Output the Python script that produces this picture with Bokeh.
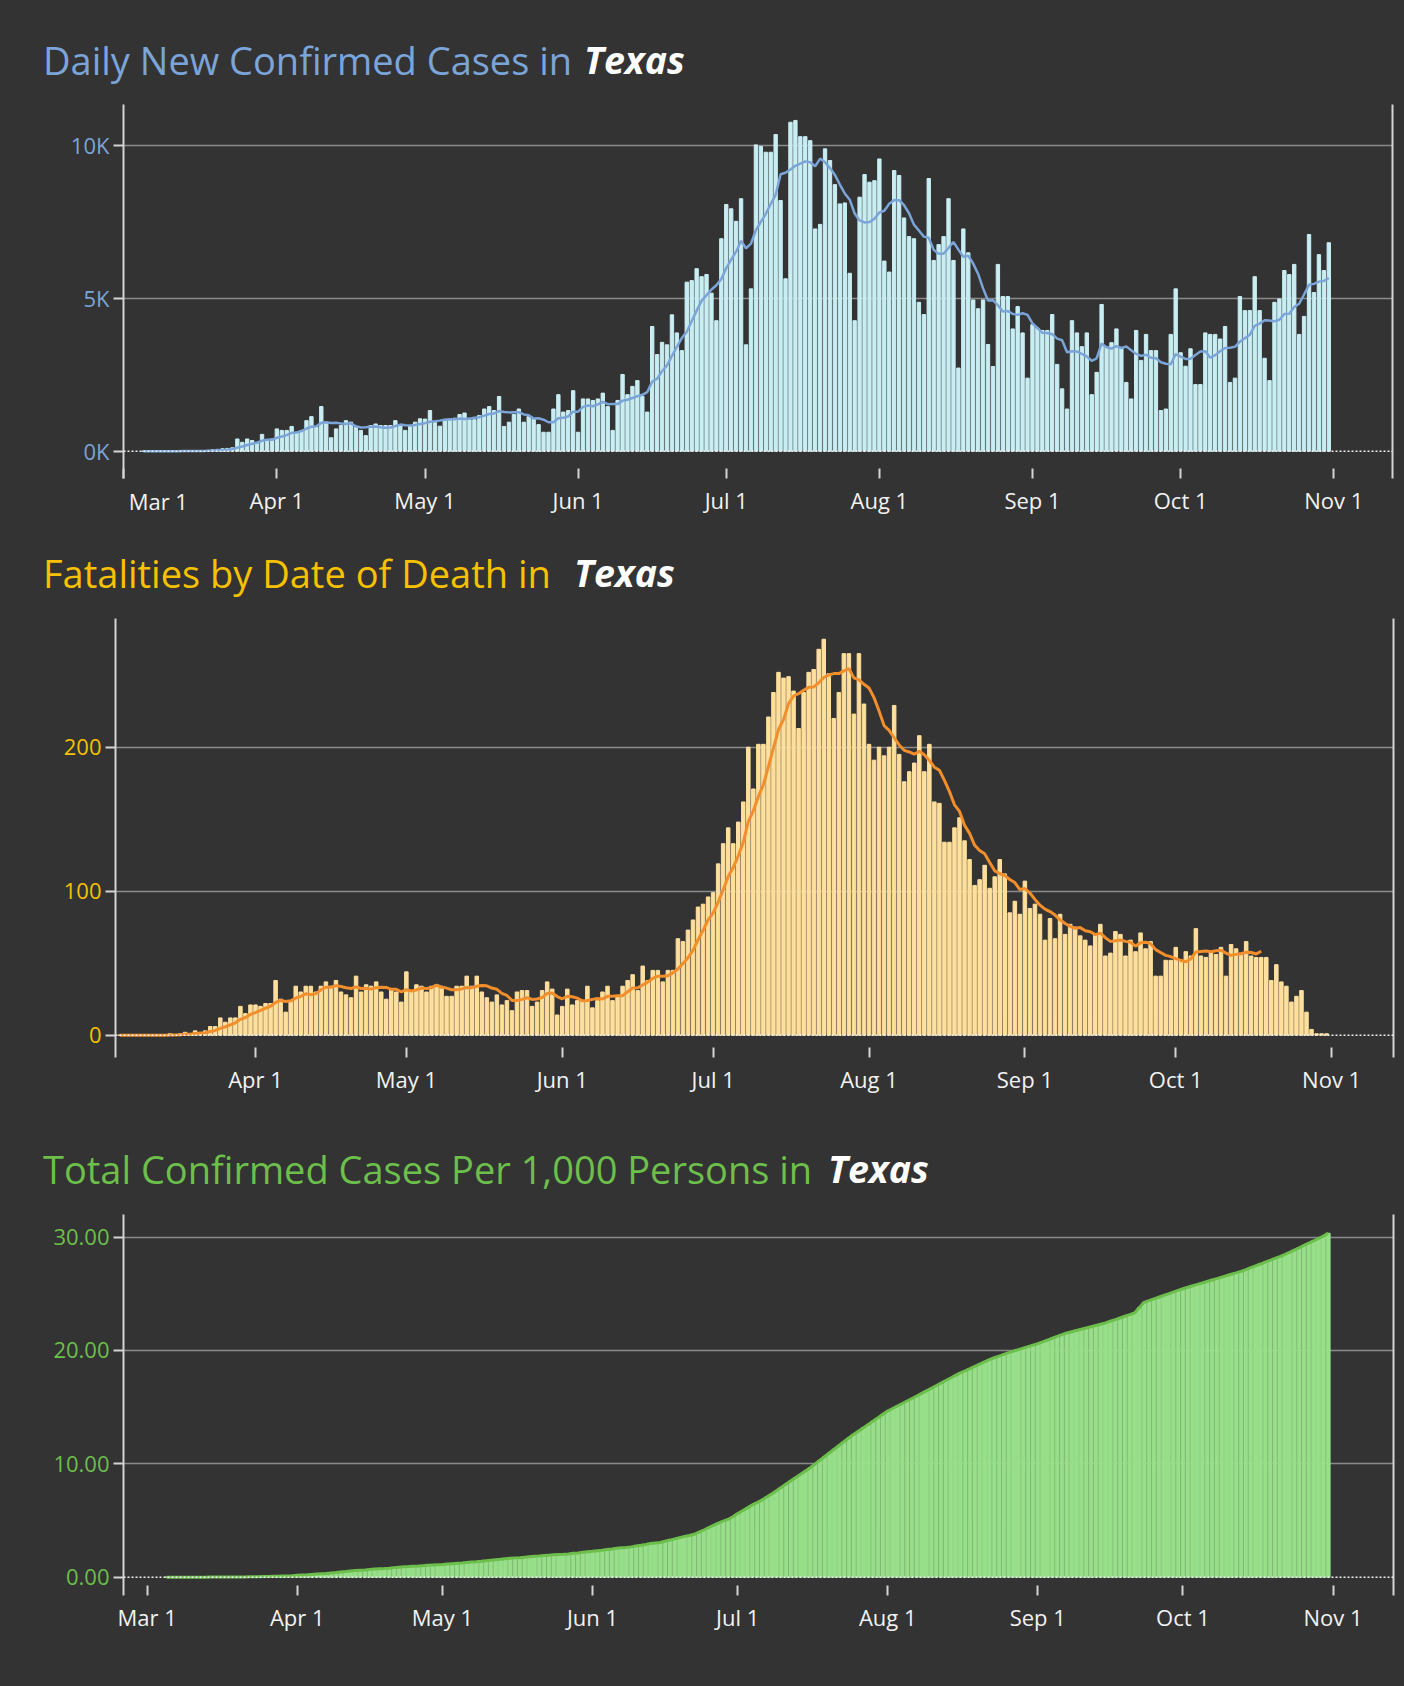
import numpy as np
import pandas as pd
from bokeh.plotting import figure
from bokeh.layouts import column, row
from bokeh.models import FixedTicker, Span, LinearAxis, ColumnDataSource, Range1d, Div
from bokeh.embed import file_html
from bokeh.resources import INLINE

# ---------------- data (day 0 = Mar 1, 2020) ----------------
month_tick_days = [0, 31, 61, 92, 122, 153, 184, 214, 245]
month_tick_labels = ["Mar 1", "Apr 1", "May 1", "Jun 1", "Jul 1", "Aug 1", "Sep 1", "Oct 1", "Nov 1"]
first_day = 4  # Mar 5

title_main = ["Daily New Confirmed Cases in", "Fatalities by Date of Death in",
              "Total Confirmed Cases Per 1,000 Persons in"]
title_state = "Texas"

daily_cases = [
    1, 0, 2, 1, 3, 2, 5, 4, 8, 10, 12, 15,
    20, 30, 45, 60, 80, 90, 110,
    400, 290, 400, 350, 290, 550, 350, 400, 730,
    680, 680, 810, 620, 680, 1000, 1130, 790, 1460,
    950, 440, 730, 840, 1000, 950, 790, 680, 510, 840,
    890, 840, 840, 840, 1000, 840, 680, 840, 950, 1060,
    1050, 1330, 950, 820, 1040, 1040, 1080, 1200, 1250, 1030,
    1030, 1170, 1380, 1460, 1330, 1790, 810, 950, 1200, 1380,
    950, 1130, 1060, 870, 620, 620, 1380, 1850, 1280, 1330,
    1980, 620, 1710, 1710, 1660, 1710, 1900, 1460, 680, 1660,
    2510, 1850, 2120, 2310, 1790, 1280, 4080, 3160, 3560, 3480,
    4460, 3870, 3290, 5530, 5580, 5970, 5710, 5780, 5170, 4270,
    6950, 8070, 7930, 7520, 8260, 3480, 5310, 10020, 9970, 9780,
    9780, 10360, 8200, 5640, 10760, 10820, 10290, 10290, 10160, 7270,
    7420, 9890, 9510, 8720, 8090, 8120, 5820, 4270, 8310, 9050,
    8800, 8850, 9560, 6220, 5860, 9180, 9020, 7630, 7020, 6950,
    4870, 4470, 8920, 6240, 6760, 7020, 8260, 6240, 2720, 7270,
    6490, 4950, 4660, 4950, 3490, 2770, 6110, 5060, 5060, 4000,
    4730, 3870, 2390, 4140, 4030, 3950, 3950, 4470, 2840, 2040,
    1380, 4270, 3870, 3420, 3870, 1850, 2580, 4800, 3420, 3550,
    4000, 3400, 2250, 1710, 3950, 2970, 3820, 3290, 3290, 1330,
    1380, 3820, 5310, 3220, 2780, 3350, 2180, 2180, 3870, 3820,
    3820, 3670, 4080, 2250, 2390, 5060, 4600, 4600, 5710, 4600,
    3040, 2310, 4870, 4980, 5910, 5780, 6110, 3820, 4410, 7090,
    5190, 6430, 5910, 6820,
]

daily_deaths = [
    0, 0, 0, 0, 0, 0, 0, 0, 0, 0,
    1, 0, 1, 2, 1, 3, 2, 3,
    6, 6, 12, 9, 12, 12, 20, 15, 21, 21,
    20, 22, 22, 38, 25, 16, 24, 34, 30, 34,
    34, 30, 34, 37, 34, 38, 30, 28, 26, 41,
    30, 35, 34, 37, 30, 25, 32, 30, 23, 44,
    31, 35, 34, 30, 34, 35, 34, 27, 27, 34,
    34, 41, 34, 41, 30, 26, 23, 28, 21, 24,
    17, 30, 31, 31, 20, 23, 31, 37, 32, 14,
    20, 32, 21, 24, 24, 34, 19, 24, 30, 34,
    24, 27, 34, 38, 42, 31, 48, 38, 45, 45,
    37, 45, 45, 67, 65, 73, 80, 89, 91, 96,
    99, 119, 133, 144, 133, 148, 162, 200, 171, 202,
    202, 221, 238, 252, 248, 249, 239, 213, 238, 252,
    254, 268, 275, 251, 220, 238, 265, 265, 223, 265,
    230, 202, 191, 200, 194, 200, 229, 195, 176, 183,
    189, 208, 183, 202, 162, 161, 134, 134, 144, 151,
    135, 122, 104, 108, 118, 102, 110, 122, 112, 85,
    93, 84, 107, 88, 91, 84, 66, 81, 67, 84,
    70, 77, 75, 69, 66, 62, 70, 77, 55, 57,
    72, 70, 55, 66, 58, 71, 60, 65, 41, 41,
    52, 52, 61, 52, 58, 55, 74, 55, 54, 58,
    56, 61, 41, 63, 60, 57, 65, 55, 54, 54,
    54, 38, 49, 37, 34, 23, 27, 31, 16, 4,
    1, 1, 1,
]
deaths_avg_last_day = 231

total_per_1000 = [
    0.00, 0.00, 0.00, 0.00, 0.00, 0.00, 0.00, 0.00, 0.00, 0.01, 0.01,
    0.01, 0.01, 0.01, 0.02, 0.02,
    0.02, 0.03, 0.03, 0.04, 0.05,
    0.06, 0.07, 0.08, 0.10, 0.11, 0.13, 0.16,
    0.19, 0.21, 0.24, 0.27, 0.30, 0.33, 0.37, 0.41, 0.46, 0.50, 0.55,
    0.58, 0.61, 0.64, 0.68, 0.71, 0.74, 0.76, 0.79, 0.84, 0.88,
    0.91, 0.93, 0.96, 0.98, 1.01, 1.04, 1.07, 1.09, 1.11,
    1.15, 1.19, 1.22, 1.25, 1.29, 1.33, 1.36, 1.40, 1.45,
    1.49, 1.53, 1.57, 1.62, 1.66, 1.70, 1.72, 1.76, 1.80,
    1.84, 1.87, 1.91, 1.94, 1.97, 1.99, 2.01, 2.05, 2.10, 2.14, 2.19, 2.24, 2.28,
    2.33, 2.38, 2.44, 2.49, 2.55, 2.59,
    2.61, 2.67, 2.75, 2.81, 2.88, 2.96, 3.02, 3.06, 3.17,
    3.27, 3.38, 3.49, 3.59, 3.67,
    3.78, 3.97, 4.16, 4.36,
    4.56, 4.76, 4.94, 5.09, 5.33, 5.61,
    5.86, 6.11, 6.37, 6.58, 6.80, 7.07, 7.33,
    7.62, 7.92, 8.21, 8.50, 8.79, 9.07, 9.36, 9.65,
    9.98, 10.32, 10.65, 10.98, 11.31, 11.64, 11.97, 12.30,
    12.60, 12.89, 13.19, 13.48, 13.78, 14.07, 14.37, 14.66,
    14.88, 15.10, 15.32, 15.54, 15.76, 15.98,
    16.21, 16.44, 16.66, 16.89, 17.12, 17.35, 17.57, 17.80, 18.03,
    18.20, 18.40, 18.60, 18.80, 19.00, 19.20,
    19.36, 19.51, 19.66, 19.81, 19.95, 20.08, 20.21, 20.34, 20.47, 20.60,
    20.76, 20.92, 21.08, 21.24, 21.40, 21.55,
    21.66, 21.77, 21.88, 21.99, 22.10, 22.21, 22.32, 22.43,
    22.58, 22.72, 22.87, 23.02, 23.16, 23.31,
    23.80, 24.25, 24.40,
    24.55, 24.70, 24.85, 25.00, 25.15, 25.30, 25.45,
    25.58, 25.71, 25.83, 25.96, 26.09, 26.22, 26.34, 26.47, 26.60, 26.73, 26.85, 26.98,
    27.14, 27.31, 27.47, 27.63, 27.80, 27.96, 28.12, 28.29, 28.45,
    28.65, 28.86, 29.06, 29.27, 29.47, 29.68, 29.88, 30.09, 30.35,
]

cases_ticks = [0, 5000, 10000]
cases_tick_labels = ["0K", "5K", "10K"]
deaths_ticks = [0, 100, 200]
deaths_tick_labels = ["0", "100", "200"]
total_ticks = [0, 10, 20, 30]
total_tick_labels = ["0.00", "10.00", "20.00", "30.00"]

# ---------------- style ----------------
BG = "#333333"
FONT = "Open Sans"
AXIS_COL = "#d4d4d4"
GRID_COL = "#8a8a8a"
XLAB_COL = "#f2f2f2"
TICK_FS = "22px"
W = 1404

days = first_day + np.arange(len(daily_cases))


def header(height, text, color, x_main, x_state, top):
    html = (
        f'<div style="position:relative;width:{W}px;height:{height}px;'
        f"font-family:'{FONT}';line-height:40px;white-space:nowrap;\">"
        f'<span style="position:absolute;left:{x_main}px;top:{top}px;font-size:38px;'
        f'color:{color};">{text}</span>'
        f'<span style="position:absolute;left:{x_state}px;top:{top}px;font-size:37.5px;'
        f'color:#ffffff;font-weight:bold;font-style:italic;">{title_state}</span></div>'
    )
    return Div(text=html, width=W, height=height, margin=(0, 0, 0, 0))


def make_fig(height, borders, xr, yr, yticks, ylabels, ycolor, first_label_at=None):
    left, right, top, bottom = borders
    p = figure(width=W, height=height, output_backend="svg", toolbar_location=None,
               x_range=Range1d(*xr), y_range=Range1d(*yr),
               min_border_left=left, min_border_right=right,
               min_border_top=top, min_border_bottom=bottom)
    p.background_fill_color = BG
    p.border_fill_color = None
    p.outline_line_color = None
    p.xgrid.grid_line_color = None
    p.ygrid.ticker = FixedTicker(ticks=[t for t in yticks if t != 0])
    p.ygrid.grid_line_color = GRID_COL
    p.ygrid.grid_line_width = 1.5

    labels = dict(zip(month_tick_days, month_tick_labels))
    if first_label_at is not None:
        labels[month_tick_days[0]] = ""

    xa = p.xaxis[0]
    xa.ticker = FixedTicker(ticks=month_tick_days)
    xa.major_label_overrides = labels
    xa.axis_line_color = None
    xa.major_tick_line_color = AXIS_COL
    xa.major_tick_line_width = 2
    xa.major_tick_in = 10
    xa.major_tick_out = 0
    xa.minor_tick_line_color = None
    xa.major_label_standoff = 6
    xa.major_label_text_font = FONT
    xa.major_label_text_font_size = TICK_FS
    xa.major_label_text_color = XLAB_COL

    if first_label_at is not None:
        # the first month label sits just right of the axis start, on the same line
        xa2 = LinearAxis(ticker=FixedTicker(ticks=[first_label_at]),
                         major_label_overrides={first_label_at: month_tick_labels[0]},
                         axis_line_color=None, major_tick_line_color=None,
                         minor_tick_line_color=None, major_tick_in=0, major_tick_out=0,
                         major_label_standoff=-32,
                         major_label_text_font=FONT, major_label_text_font_size=TICK_FS,
                         major_label_text_color=XLAB_COL)
        p.add_layout(xa2, "below")

    ya = p.yaxis[0]
    ya.ticker = FixedTicker(ticks=yticks)
    ya.major_label_overrides = dict(zip(yticks, ylabels))
    ya.axis_line_color = AXIS_COL
    ya.axis_line_width = 2
    ya.major_tick_line_color = AXIS_COL
    ya.major_tick_line_width = 2
    ya.major_tick_in = 0
    ya.major_tick_out = 10
    ya.minor_tick_line_color = None
    ya.major_label_standoff = 4
    ya.major_label_text_font = FONT
    ya.major_label_text_font_size = TICK_FS
    ya.major_label_text_color = ycolor

    ra = LinearAxis(ticker=FixedTicker(ticks=[]), axis_line_color=AXIS_COL, axis_line_width=2,
                    major_tick_line_color=None, minor_tick_line_color=None,
                    major_label_text_font_size="0px", major_label_standoff=0,
                    major_tick_out=0, major_tick_in=0)
    p.add_layout(ra, "right")

    p.add_layout(Span(location=0, dimension="width", line_color="#f0f0f0",
                      line_dash="2 2", line_width=1.5))
    return p


# ---------------- chart 1: daily cases ----------------
h1 = header(85, title_main[0], "#7ba4d9", 43, 584, 40)
src1 = ColumnDataSource(dict(day=days, v=daily_cases,
                             avg=pd.Series(daily_cases).rolling(7, min_periods=1).mean()))
p1 = make_fig(445, (123, 12, 19, 52), (-0.05, 256.9), (-893, 11341),
              cases_ticks, cases_tick_labels, "#7ba4d9", first_label_at=7)
p1.vbar(x="day", top="v", width=0.68, source=src1, color="#c8eef3")
p1.line(x="day", y="avg", source=src1, line_color="#7ba4d9", line_width=2.5)

# ---------------- chart 2: deaths ----------------
h2 = header(68, title_main[1], "#f7c100", 43, 574, 23)
d_avg = pd.Series(daily_deaths).rolling(7, min_periods=1).mean()
src2 = ColumnDataSource(dict(day=days, v=daily_deaths))
n_avg = deaths_avg_last_day - first_day + 1
src2l = ColumnDataSource(dict(day=days[:n_avg], avg=d_avg[:n_avg]))
p2 = make_fig(527, (115, 11, 20, 68), (3.16, 257.3), (-15.5, 289.4),
              deaths_ticks, deaths_tick_labels, "#f7c100")
p2.vbar(x="day", top="v", width=0.7, source=src2, color="#ffdf9c")
p2.line(x="day", y="avg", source=src2l, line_color="#f28e2b", line_width=3)

# ---------------- chart 3: total per 1,000 ----------------
h3 = header(69, title_main[2], "#6cbf4a", 43, 828, 24)
src3 = ColumnDataSource(dict(day=days, v=total_per_1000))
p3 = make_fig(492, (123, 11, 20, 91), (-4.9, 257.5), (-1.62, 32.0),
              total_ticks, total_tick_labels, "#6cbf4a")
p3.vbar(x="day", top="v", width=0.8, source=src3, color="#98df8a")
p3.line(x="day", y="v", source=src3, line_color="#6cbf4a", line_width=3)

layout = column(h1, row(p1), h2, row(p2), h3, row(p3), spacing=0)
html = file_html(layout, INLINE, title="Texas COVID-19")
html = html.replace("</head>", "<style>html, body {background-color: #333333;}</style></head>", 1)
open("out.html", "w").write(html)
